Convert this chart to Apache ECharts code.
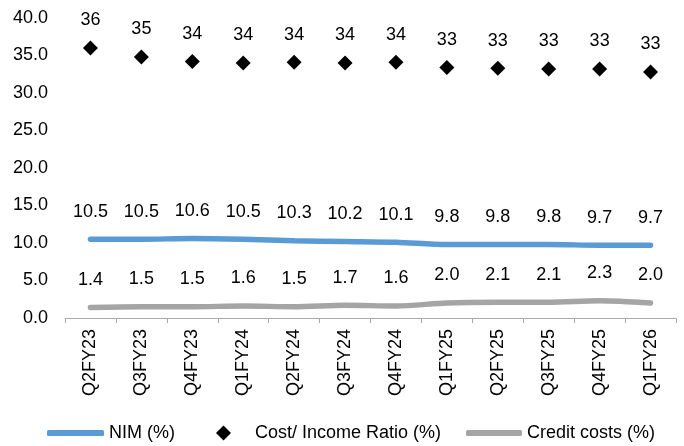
<!DOCTYPE html>
<html>
<head>
<meta charset="utf-8">
<script src="https://cdn.jsdelivr.net/npm/echarts@6/dist/echarts.min.js"></script>
<style>
  html, body { margin: 0; padding: 0; background: #ffffff; }
  #chart { width: 684px; height: 446px; }
</style>
</head>
<body>
<div id="chart"></div>
<script>
// Quarterly profitability metrics
const quarters = ['Q2FY23', 'Q3FY23', 'Q4FY23', 'Q1FY24', 'Q2FY24', 'Q3FY24',
                  'Q4FY24', 'Q1FY25', 'Q2FY25', 'Q3FY25', 'Q4FY25', 'Q1FY26'];
const nim = [10.5, 10.5, 10.6, 10.5, 10.3, 10.2, 10.1, 9.8, 9.8, 9.8, 9.7, 9.7];
const costIncome = [36.0, 34.8, 34.2, 34.0, 34.1, 34.0, 34.1, 33.4, 33.3, 33.2, 33.2, 32.8];
const creditCosts = [1.4, 1.5, 1.5, 1.6, 1.5, 1.7, 1.6, 2.0, 2.1, 2.1, 2.3, 2.0];
const yTicks = { min: 0, max: 40, step: 5 };

const FONT = '"Liberation Sans", Arial, sans-serif';
const BLUE = '#5b9bd5';
const GREY = '#a5a5a5';
const AXIS = '#aaaaaa';
const CLEAR = 'rgba(0,0,0,0)';

const valueLabel = (digits, distance) => ({
  show: true,
  position: 'top',
  distance: distance,
  color: '#000',
  fontFamily: FONT,
  fontSize: 18,
  formatter: (p) => Number(p.value).toFixed(digits)
});

const legendBase = {
  orient: 'horizontal',
  top: 424,
  padding: 0,
  textStyle: { color: '#000', fontFamily: FONT, fontSize: 18 }
};

const chart = echarts.init(document.getElementById('chart'), null, { renderer: 'canvas' });
chart.setOption({
  animation: false,
  backgroundColor: '#ffffff',
  textStyle: { fontFamily: FONT },
  grid: { left: 65, right: 8, top: 18, bottom: 128, containLabel: false },
  legend: [
    Object.assign({}, legendBase, {
      left: 47,
      itemWidth: 57,
      itemHeight: 6,
      data: [{ name: 'NIM (%)', icon: 'roundRect', itemStyle: { color: BLUE } }]
    }),
    Object.assign({}, legendBase, {
      left: 216,
      itemWidth: 15,
      itemHeight: 15,
      textStyle: Object.assign({}, legendBase.textStyle, { padding: [0, 0, 0, 19] }),
      data: [{ name: 'Cost/ Income Ratio (%)', icon: 'diamond', itemStyle: { color: '#000' } }]
    }),
    Object.assign({}, legendBase, {
      left: 466,
      itemWidth: 56,
      itemHeight: 6,
      data: [{ name: 'Credit costs (%)', icon: 'roundRect', itemStyle: { color: GREY } }]
    })
  ],
  xAxis: {
    type: 'category',
    data: quarters,
    boundaryGap: true,
    axisLine: { show: true, lineStyle: { color: AXIS, width: 1 } },
    axisTick: { show: true, length: 5, alignWithLabel: false, lineStyle: { color: AXIS } },
    axisLabel: {
      rotate: 90,
      margin: 11,
      color: '#000',
      fontFamily: FONT,
      fontSize: 18,
      interval: 0
    },
    splitLine: { show: false }
  },
  yAxis: {
    type: 'value',
    min: yTicks.min,
    max: yTicks.max,
    interval: yTicks.step,
    axisLine: { show: false },
    axisTick: { show: false },
    splitLine: { show: false },
    axisLabel: {
      margin: 17,
      color: '#000',
      fontFamily: FONT,
      fontSize: 18,
      formatter: (v) => v.toFixed(1)
    }
  },
  series: [
    {
      name: 'NIM (%)',
      type: 'line',
      data: nim,
      smooth: 0.3,
      symbol: 'circle',
      symbolSize: 1,
      showSymbol: true,
      lineStyle: { color: BLUE, width: 5.5, cap: 'round' },
      itemStyle: { color: CLEAR, borderWidth: 0 },
      label: valueLabel(1, 18),
      z: 3
    },
    {
      name: 'Cost/ Income Ratio (%)',
      type: 'line',
      data: costIncome,
      symbol: 'diamond',
      symbolSize: 15,
      showSymbol: true,
      lineStyle: { width: 0, opacity: 0 },
      itemStyle: { color: '#000' },
      label: valueLabel(0, 11),
      z: 4
    },
    {
      name: 'Credit costs (%)',
      type: 'line',
      data: creditCosts,
      smooth: 0.3,
      symbol: 'circle',
      symbolSize: 1,
      showSymbol: true,
      lineStyle: { color: GREY, width: 5.5, cap: 'round' },
      itemStyle: { color: CLEAR, borderWidth: 0 },
      label: valueLabel(1, 18),
      z: 3
    }
  ]
});
</script>
</body>
</html>
